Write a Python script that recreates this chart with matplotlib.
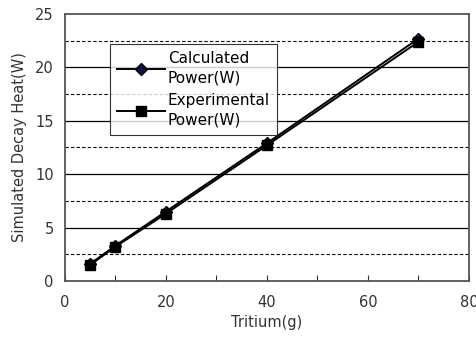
import matplotlib.pyplot as plt
import numpy as np

tritium = [5, 10, 20, 40, 70]
calc_power = [1.6, 3.3, 6.5, 12.9, 22.7]
exp_power = [1.5, 3.2, 6.3, 12.7, 22.4]

fig = plt.figure(figsize=(4.77, 3.43), dpi=100)
ax = fig.add_axes([0.136, 0.181, 0.847, 0.778])

# grid: solid at major, dashed at half steps
for y in [5, 10, 15, 20]:
    ax.axhline(y, color="black", lw=0.9, zorder=1)
for y in [2.5, 7.5, 12.5, 17.5, 22.5]:
    ax.axhline(y, color="black", lw=0.8, ls=(0, (3, 2)), zorder=1)

ax.plot(tritium, calc_power, color="black", lw=1.4, marker="D",
        markersize=6, markerfacecolor="#101040", markeredgecolor="black",
        label="Calculated\nPower(W)", zorder=3)
ax.plot(tritium, exp_power, color="black", lw=1.4, marker="s",
        markersize=6.5, markerfacecolor="black",
        label="Experimental\nPower(W)", zorder=3)

ax.set_xlim(0, 80)
ax.set_ylim(0, 25)
ax.set_xticks([0, 20, 40, 60, 80])
ax.set_xticks(np.arange(10, 80, 20), minor=True)
ax.set_yticks([0, 5, 10, 15, 20, 25])
ax.tick_params(axis="x", direction="in", length=4, labelsize=10.5,
               colors="#333333", pad=10)
ax.tick_params(axis="x", which="minor", direction="in", length=4)
ax.tick_params(axis="y", direction="in", length=0, labelsize=10.5,
               colors="#333333", pad=8)
for s in ax.spines.values():
    s.set_color("#555555")
    s.set_linewidth(1.3)

ax.set_xlabel("Tritium(g)", fontsize=10.5, color="#333333", labelpad=4)
ax.set_ylabel("Simulated Decay Heat(W)", fontsize=10.5, color="#333333",
              labelpad=6)

leg = ax.legend(loc="upper left", bbox_to_anchor=(0.111, 0.888), fontsize=11,
                frameon=True, fancybox=False, edgecolor="black",
                borderaxespad=0, borderpad=0.45, handlelength=3.2,
                labelspacing=0.55, handletextpad=0.15)
leg.get_frame().set_linewidth(0.8)
for t in leg.get_texts():
    t.set_linespacing(1.35)

fig.savefig("out.png", dpi=100)
